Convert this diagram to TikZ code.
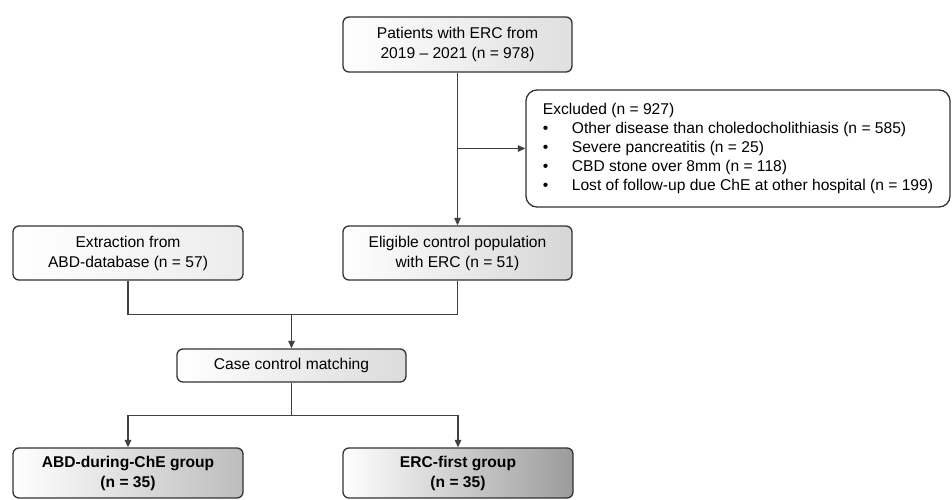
\documentclass[tikz,border=0pt]{standalone}
\usepackage{fontspec}
\setmainfont{Liberation Sans}
\usetikzlibrary{arrows.meta}

\begin{document}
\begin{tikzpicture}[x=1pt,y=-1pt,
  box/.style={draw=black!80,line width=1.3pt,rounded corners=6pt,minimum width=229pt,
    align=center,font=\fontsize{15.6}{20}\selectfont,left color=white,right color=#1},
  box/.default=gray!25,
  link/.style={draw=black!75,line width=1.2pt},
  flow/.style={link,-{Triangle[length=7.5pt,width=6.5pt]}}
]
  \useasboundingbox[fill=white] (0,0) rectangle (952,500);
  \node[box,minimum height=55pt] (patients) at (457.5,44.5) {Patients with ERC from\\2019 -- 2021 (n = 978)};
  \node[box=white,rounded corners=11pt,minimum width=424pt,minimum height=117pt,
    align=left,font=\fontsize{15.6}{19}\selectfont] (excluded) at (738,148.5)
    {Excluded (n = 927)\\
     \makebox[29pt][l]{\textbullet}Other disease than choledocholithiasis (n = 585)\\
     \makebox[29pt][l]{\textbullet}Severe pancreatitis (n = 25)\\
     \makebox[29pt][l]{\textbullet}CBD stone over 8mm (n = 118)\\
     \makebox[29pt][l]{\textbullet}Lost of follow-up due ChE at other hospital (n = 199)};
  \node[box=gray!15,minimum width=230pt,minimum height=54pt] (extraction) at (128,253) {Extraction from\\ABD-database (n = 57)};
  \node[box=gray!32,minimum height=54pt] (eligible) at (457.5,253) {Eligible control population\\with ERC (n = 51)};
  \node[box=gray!28,minimum height=33pt] (matching) at (291.5,365.5) {Case control matching};
  \node[box=gray!52,minimum width=230pt,minimum height=50pt,font=\fontsize{15.6}{20}\selectfont\bfseries] (abdgroup) at (128,473) {ABD-during-ChE group\\(n = 35)};
  \node[box=gray!78,minimum width=230pt,minimum height=50pt,font=\fontsize{15.6}{20}\selectfont\bfseries] (ercgroup) at (458,473) {ERC-first group\\(n = 35)};

  \coordinate (merge) at (291.5,314.5);
  \coordinate (split) at (291.5,415.5);

  \draw[flow] (patients.south) -- (eligible.north);
  \draw[flow] (patients.south |- excluded.west) -- (excluded.west);
  \draw[link] (extraction.south) |- (merge);
  \draw[link] (eligible.south) |- (merge);
  \draw[flow] (merge) -- (matching.north);
  \draw[link] (matching.south) -- (split);
  \draw[flow] (split) -| (abdgroup.north);
  \draw[flow] (split) -| (ercgroup.north);
\end{tikzpicture}
\end{document}
